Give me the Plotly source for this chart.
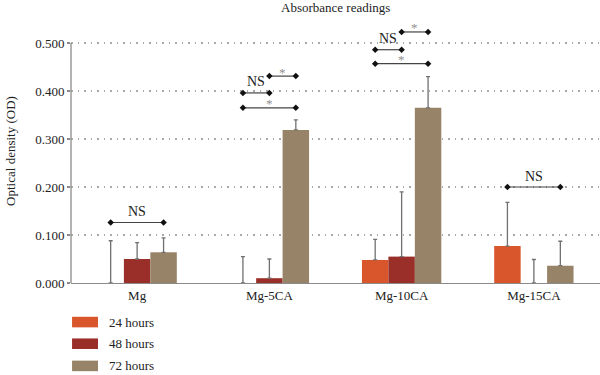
import plotly.graph_objects as go

categories = ["Mg", "Mg-5CA", "Mg-10CA", "Mg-15CA"]
series_names = ["24 hours", "48 hours", "72 hours"]
colors = ["#D9552B", "#9A2E28", "#978468"]
values_24 = [0.0, 0.0, 0.048, 0.077]
values_48 = [0.050, 0.010, 0.055, 0.0]
values_72 = [0.064, 0.319, 0.365, 0.036]
err_24 = [0.088, 0.055, 0.043, 0.091]
err_48 = [0.034, 0.040, 0.135, 0.049]
err_72 = [0.030, 0.021, 0.065, 0.051]
y_ticks = [0.0, 0.1, 0.2, 0.3, 0.4, 0.5]
y_ticklabels = ["0.000", "0.100", "0.200", "0.300", "0.400", "0.500"]

# significance brackets: (category index, bar from, bar to, y level, label)
brackets = [
    (0, 0, 2, 0.126, "NS"),
    (1, 0, 1, 0.396, "NS"),
    (1, 1, 2, 0.431, "*"),
    (1, 0, 2, 0.365, "*"),
    (2, 0, 1, 0.486, "NS"),
    (2, 1, 2, 0.523, "*"),
    (2, 0, 2, 0.457, "*"),
    (3, 0, 2, 0.200, "NS"),
]

BAR_W = 0.2
xs = list(range(len(categories)))
font_family = "Liberation Serif"

fig = go.Figure()
for name, col, vals, errs in zip(series_names, colors,
                                 [values_24, values_48, values_72],
                                 [err_24, err_48, err_72]):
    fig.add_trace(go.Bar(
        x=xs, y=vals, name=name, marker=dict(color=col, line=dict(width=0)),
        error_y=dict(type="data", symmetric=False, array=errs,
                     arrayminus=[0] * len(errs), color="#707070",
                     thickness=1.3, width=2),
        showlegend=False, hoverinfo="skip",
    ))

def bar_center(ci, bi):
    return ci + (bi - 1) * BAR_W

annotations = []
for ci, b0, b1, yv, lab in brackets:
    x0, x1 = bar_center(ci, b0), bar_center(ci, b1)
    fig.add_trace(go.Scatter(
        x=[x0, x1], y=[yv, yv], mode="lines+markers",
        line=dict(color="#444444", width=1.2),
        marker=dict(symbol="diamond", size=5, color="#111111"),
        cliponaxis=False, showlegend=False, hoverinfo="skip"))
    ax = (x0 + x1) / 2
    if lab == "NS":
        annotations.append(dict(x=ax, y=yv, yshift=11, text="NS",
                                showarrow=False, xref="x", yref="y",
                                font=dict(family=font_family, size=14, color="#222222")))
    else:
        annotations.append(dict(x=ax, y=yv, yshift=4, text="*",
                                showarrow=False, xref="x", yref="y",
                                font=dict(family=font_family, size=13, color="#909090")))

# title
annotations.append(dict(x=0.5, y=1.042, xref="paper", yref="paper",
                        text="Absorbance readings", showarrow=False,
                        yanchor="middle",
                        font=dict(family=font_family, size=13, color="#222222")))

# manual legend
shapes = []
leg_y = [-0.148, -0.230, -0.314]
for name, col, ly in zip(series_names, colors, leg_y):
    shapes.append(dict(type="rect", xref="paper", yref="paper",
                       x0=0.002, x1=0.051, y0=ly - 0.02, y1=ly + 0.02,
                       fillcolor=col, line=dict(width=0)))
    annotations.append(dict(x=0.068, y=ly, xref="paper", yref="paper",
                            text=name, showarrow=False, xanchor="left",
                            yanchor="middle",
                            font=dict(family=font_family, size=13, color="#222222")))

# y axis line only up to 0.5
shapes.append(dict(type="line", xref="paper", yref="y", x0=0, x1=0,
                   y0=0, y1=0.5, line=dict(color="#8a8a8a", width=1.3)))

fig.update_layout(
    width=600, height=375,
    margin=dict(l=71, r=0, t=19, b=92),
    paper_bgcolor="white", plot_bgcolor="white",
    barmode="group", bargap=0.4, bargroupgap=0,
    font=dict(family=font_family, size=13, color="#222222"),
    annotations=annotations, shapes=shapes,
    showlegend=False, hovermode=False,
    xaxis=dict(range=[-0.5, 3.5], tickvals=xs, ticktext=categories,
               showline=True, linecolor="#8a8a8a", linewidth=1.3,
               ticks="", showgrid=False, zeroline=False,
               tickfont=dict(family=font_family, size=13, color="#222222")),
    yaxis=dict(range=[0, 0.55], tickvals=y_ticks, ticktext=y_ticklabels,
               showline=False, ticks="outside", ticklen=3,
               tickcolor="#8a8a8a", tickwidth=1.3,
               showgrid=True, gridcolor="#a8a8a8", griddash="1.5px,5px", gridwidth=1.5,
               zeroline=False,
               title=dict(text="Optical density (OD)", standoff=16,
                          font=dict(family=font_family, size=13, color="#222222")),
               tickfont=dict(family=font_family, size=13, color="#222222")),
)

fig.write_html("out.html", config={"displayModeBar": False, "staticPlot": True})

# remove the default page margin so the 600x375 figure fills the window
with open("out.html", "r", encoding="utf-8") as f:
    html = f.read()
html = html.replace("<body>", '<body style="margin:0;padding:0;">', 1)
with open("out.html", "w", encoding="utf-8") as f:
    f.write(html)
